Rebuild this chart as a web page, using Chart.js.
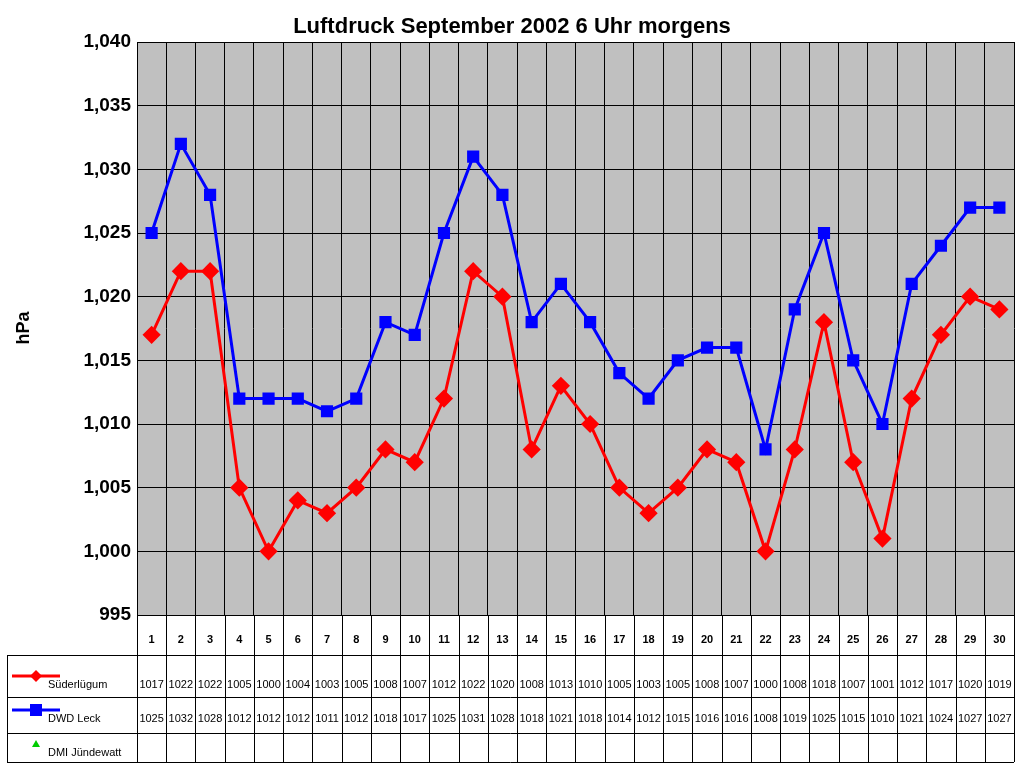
<!DOCTYPE html>
<html lang="de">
<head>
<meta charset="UTF-8">
<title>Luftdruck September 2002</title>
<style>
  body { margin: 0; background: #fff; }
  #wrap { width: 1024px; height: 768px; }
</style>
</head>
<body>
<div id="wrap"><canvas id="chart" width="1024" height="768"></canvas></div>
<script src="https://cdn.jsdelivr.net/npm/chart.js"></script>
<script>
const days = Array.from({length: 30}, (_, i) => String(i + 1));
const suederluegum = [1017,1022,1022,1005,1000,1004,1003,1005,1008,1007,1012,1022,1020,1008,1013,1010,1005,1003,1005,1008,1007,1000,1008,1018,1007,1001,1012,1017,1020,1019];
const dwdLeck = [1025,1032,1028,1012,1012,1012,1011,1012,1018,1017,1025,1031,1028,1018,1021,1018,1014,1012,1015,1016,1016,1008,1019,1025,1015,1010,1021,1024,1027,1027];
const dmiJuendewatt = [];
const seriesNames = ['Süderlügum', 'DWD Leck', 'DMI Jündewatt'];

// gray plot background + title + data table below
const tablePlugin = {
  id: 'tablePlugin',
  beforeDraw(chart) {
    const {ctx, chartArea: a} = chart;
    ctx.save();
    ctx.fillStyle = '#c0c0c0';
    ctx.fillRect(a.left, a.top, a.right - a.left, a.bottom - a.top);
    ctx.restore();
  },
  afterDraw(chart) {
    const {ctx, chartArea: a} = chart;
    const x = chart.scales.x;
    ctx.save();
    ctx.fillStyle = '#000';
    ctx.font = 'bold 22px Arial, "Liberation Sans"';
    ctx.textAlign = 'center';
    ctx.textBaseline = 'middle';
    ctx.fillText('Luftdruck September 2002 6 Uhr morgens', 512, 27);
    ctx.save();
    ctx.translate(24, 328);
    ctx.rotate(-Math.PI / 2);
    ctx.font = 'bold 18px Arial, "Liberation Sans"';
    ctx.fillText('hPa', 0, 0);
    ctx.restore();

    const rows = [a.bottom, 655, 697, 733, 762];
    const step = x.getPixelForValue(1) - x.getPixelForValue(0);
    ctx.strokeStyle = '#000';
    ctx.lineWidth = 1;
    ctx.beginPath();
    for (let i = 0; i <= days.length; i++) {
      const px = Math.round(x.getPixelForValue(0) - step / 2 + i * step) + 0.5;
      ctx.moveTo(px, a.bottom); ctx.lineTo(px, 762);
    }
    ctx.moveTo(a.left, a.bottom + 0.5); ctx.lineTo(a.right, a.bottom + 0.5);
    for (let r = 1; r < rows.length; r++) {
      ctx.moveTo(7, rows[r] + 0.5); ctx.lineTo(a.right, rows[r] + 0.5);
    }
    ctx.moveTo(7.5, 655); ctx.lineTo(7.5, 762);
    ctx.stroke();

    ctx.font = 'bold 11px Arial, "Liberation Sans"';
    days.forEach((d, i) => ctx.fillText(d, x.getPixelForValue(i), 640));
    ctx.font = '11px Arial, "Liberation Sans"';
    const vals = [suederluegum, dwdLeck, dmiJuendewatt];
    const ys = [685, 719, 753];
    vals.forEach((s, r) => s.forEach((v, i) => ctx.fillText(String(v), x.getPixelForValue(i), ys[r])));

    // legend keys
    const cols = ['#ff0000', '#0000ff', '#00cc00'];
    ys.forEach((y, r) => {
      const my = y - 9;
      ctx.strokeStyle = cols[r]; ctx.fillStyle = cols[r];
      ctx.lineWidth = r < 2 ? 3 : 1;
      if (r < 2) { ctx.beginPath(); ctx.moveTo(12, my); ctx.lineTo(60, my); ctx.stroke(); }
      ctx.beginPath();
      if (r === 0) { ctx.moveTo(36, my - 6); ctx.lineTo(42, my); ctx.lineTo(36, my + 6); ctx.lineTo(30, my); }
      else if (r === 1) { ctx.rect(30, my - 6, 12, 12); }
      else { ctx.moveTo(36, my - 4); ctx.lineTo(40, my + 3); ctx.lineTo(32, my + 3); }
      ctx.closePath(); ctx.fill();
      ctx.fillStyle = '#000';
      ctx.textAlign = 'left';
      ctx.fillText(seriesNames[r], 48, y);
      ctx.textAlign = 'center';
    });
    ctx.restore();
  }
};

new Chart(document.getElementById('chart').getContext('2d'), {
  type: 'line',
  data: {
    labels: days,
    datasets: [{
      label: seriesNames[0],
      data: suederluegum,
      borderColor: '#ff0000', backgroundColor: '#ff0000',
      borderWidth: 3, pointStyle: 'rectRot', pointRadius: 7, tension: 0
    }, {
      label: seriesNames[1],
      data: dwdLeck,
      borderColor: '#0000ff', backgroundColor: '#0000ff',
      borderWidth: 3, pointStyle: 'rect', pointRadius: 6.5, tension: 0
    }, {
      label: seriesNames[2],
      data: dmiJuendewatt,
      borderColor: '#00cc00', backgroundColor: '#00cc00',
      pointStyle: 'triangle'
    }]
  },
  options: {
    responsive: false,
    animation: false,
    layout: { padding: { top: 42, right: 4, bottom: 153, left: 0 } },
    plugins: { legend: { display: false }, title: { display: false }, tooltip: { enabled: false } },
    scales: {
      x: {
        offset: true,
        ticks: { display: false },
        grid: { offset: true, color: '#000', drawTicks: false },
        border: { color: '#000' },
        afterFit(s) { s.height = 0; }
      },
      y: {
        min: 995, max: 1040,
        ticks: { stepSize: 5, color: '#000', font: { family: 'Arial, "Liberation Sans"', size: 19, weight: 'bold' }, padding: 6 },
        grid: { color: '#000', drawTicks: false },
        border: { color: '#000' },
        afterFit(s) { s.width = 137; }
      }
    }
  },
  plugins: [tablePlugin]
});
</script>
</body>
</html>
